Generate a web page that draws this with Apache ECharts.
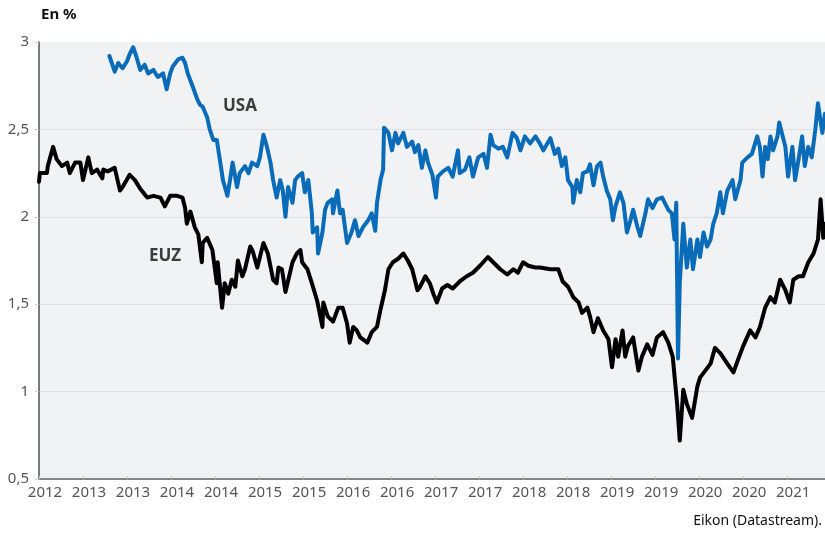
<!DOCTYPE html>
<html><head><meta charset="utf-8">
<script src="https://cdn.jsdelivr.net/npm/echarts@6/dist/echarts.min.js"></script>
<style>html,body{margin:0;padding:0;background:#fff}#c{width:825px;height:533px}</style>
</head><body><div id="c"></div>
<script>
// Tick labels (one per half-year tick)
const tickLabels = ['2012','2013','2013','2014','2014','2015','2015','2016','2016','2017','2017','2018','2018','2019','2019','2020','2020','2021'];

// EUZ yield (%), dates in decimal years
const euzT = [2012.50,2012.51,2012.59,2012.60,2012.66,2012.70,2012.76,2012.82,2012.85,2012.91,
2012.97,2013.00,2013.06,2013.10,2013.16,2013.22,2013.23,2013.28,2013.36,2013.42,
2013.45,2013.53,2013.59,2013.65,2013.73,2013.80,2013.88,2013.93,2013.99,2014.07,
2014.13,2014.16,2014.18,2014.22,2014.27,2014.31,2014.35,2014.36,2014.41,2014.47,
2014.52,2014.53,2014.58,2014.61,2014.65,2014.69,2014.73,2014.76,2014.81,2014.84,
2014.90,2014.93,2014.98,2015.05,2015.10,2015.16,2015.20,2015.22,2015.26,2015.30,
2015.38,2015.43,2015.47,2015.49,2015.55,2015.60,2015.66,2015.72,2015.73,2015.78,
2015.84,2015.90,2015.95,2016.00,2016.03,2016.07,2016.11,2016.15,2016.23,2016.28,
2016.34,2016.38,2016.43,2016.47,2016.52,2016.58,2016.64,2016.69,2016.74,2016.80,
2016.83,2016.89,2016.94,2016.98,2017.02,2017.08,2017.14,2017.20,2017.28,2017.36,
2017.43,2017.51,2017.60,2017.66,2017.74,2017.82,2017.89,2017.94,2018.00,2018.06,
2018.14,2018.19,2018.31,2018.40,2018.45,2018.51,2018.57,2018.63,2018.67,2018.73,
2018.76,2018.80,2018.85,2018.91,2018.97,2019.01,2019.05,2019.08,2019.13,2019.16,
2019.19,2019.25,2019.31,2019.35,2019.41,2019.47,2019.52,2019.59,2019.65,2019.70,
2019.75,2019.78,2019.82,2019.86,2019.92,2019.98,2020.01,2020.07,2020.13,2020.18,
2020.24,2020.32,2020.39,2020.44,2020.50,2020.58,2020.64,2020.69,2020.75,2020.81,
2020.86,2020.92,2020.98,2021.03,2021.07,2021.13,2021.18,2021.24,2021.30,2021.35,
2021.38,2021.41,2021.43];
const euzV = [2.20,2.25,2.25,2.29,2.40,2.33,2.29,2.31,2.25,2.31,
2.31,2.21,2.34,2.25,2.27,2.22,2.27,2.26,2.28,2.15,
2.17,2.24,2.21,2.16,2.11,2.12,2.11,2.06,2.12,2.12,
2.11,2.05,1.96,2.03,1.94,1.90,1.74,1.85,1.88,1.81,
1.62,1.74,1.48,1.62,1.56,1.64,1.60,1.75,1.66,1.70,
1.83,1.80,1.71,1.85,1.79,1.64,1.62,1.71,1.70,1.57,
1.74,1.79,1.81,1.74,1.70,1.62,1.52,1.37,1.51,1.43,
1.40,1.48,1.48,1.39,1.28,1.37,1.35,1.31,1.28,1.34,
1.37,1.47,1.58,1.70,1.74,1.76,1.79,1.75,1.70,1.58,
1.60,1.66,1.62,1.56,1.51,1.59,1.61,1.59,1.63,1.66,
1.68,1.72,1.77,1.74,1.70,1.67,1.70,1.68,1.74,1.72,
1.71,1.71,1.70,1.70,1.63,1.60,1.54,1.51,1.45,1.48,
1.43,1.34,1.42,1.35,1.30,1.14,1.30,1.20,1.35,1.20,
1.26,1.31,1.12,1.20,1.27,1.21,1.31,1.34,1.28,1.20,
0.93,0.72,1.01,0.93,0.85,1.03,1.08,1.12,1.16,1.25,
1.22,1.16,1.11,1.18,1.26,1.35,1.31,1.37,1.48,1.54,
1.51,1.64,1.58,1.51,1.64,1.66,1.66,1.74,1.79,1.87,
2.10,1.88,1.96];

// USA yield (%)
const usaT = [2013.30,2013.36,2013.40,2013.45,2013.50,2013.53,2013.57,2013.61,2013.65,2013.70,
2013.74,2013.80,2013.85,2013.91,2013.95,2013.99,2014.02,2014.08,2014.13,2014.16,
2014.19,2014.25,2014.30,2014.33,2014.36,2014.41,2014.44,2014.48,2014.52,2014.56,
2014.59,2014.64,2014.67,2014.70,2014.75,2014.78,2014.84,2014.88,2014.92,2014.98,
2015.01,2015.05,2015.09,2015.13,2015.16,2015.20,2015.24,2015.27,2015.30,2015.33,
2015.38,2015.41,2015.44,2015.49,2015.52,2015.56,2015.60,2015.61,2015.66,2015.67,
2015.72,2015.75,2015.78,2015.83,2015.84,2015.89,2015.92,2015.95,2016.00,2016.05,
2016.09,2016.13,2016.18,2016.24,2016.28,2016.32,2016.34,2016.38,2016.41,2016.42,
2016.47,2016.51,2016.55,2016.58,2016.64,2016.68,2016.74,2016.77,2016.81,2016.85,
2016.89,2016.92,2016.97,2017.01,2017.03,2017.09,2017.15,2017.20,2017.26,2017.28,
2017.34,2017.39,2017.43,2017.49,2017.55,2017.59,2017.63,2017.66,2017.72,2017.77,
2017.82,2017.88,2017.93,2017.97,2018.02,2018.08,2018.14,2018.19,2018.23,2018.31,
2018.36,2018.40,2018.44,2018.48,2018.51,2018.56,2018.57,2018.61,2018.65,2018.68,
2018.73,2018.76,2018.80,2018.84,2018.88,2018.91,2018.95,2018.99,2019.02,2019.05,
2019.10,2019.14,2019.18,2019.22,2019.25,2019.30,2019.33,2019.39,2019.42,2019.47,
2019.52,2019.58,2019.61,2019.65,2019.69,2019.72,2019.74,2019.76,2019.78,2019.82,
2019.86,2019.90,2019.93,2019.98,2020.01,2020.05,2020.09,2020.13,2020.16,2020.20,
2020.24,2020.27,2020.32,2020.38,2020.41,2020.47,2020.49,2020.55,2020.60,2020.66,
2020.69,2020.72,2020.75,2020.78,2020.81,2020.84,2020.89,2020.91,2020.94,2020.98,
2021.01,2021.06,2021.09,2021.13,2021.17,2021.20,2021.24,2021.28,2021.32,2021.35,
2021.40,2021.43];
const usaV = [2.92,2.83,2.88,2.85,2.89,2.93,2.97,2.91,2.84,2.87,
2.82,2.84,2.80,2.82,2.73,2.82,2.86,2.90,2.91,2.88,
2.82,2.74,2.67,2.64,2.63,2.57,2.50,2.44,2.44,2.31,
2.21,2.12,2.21,2.31,2.17,2.25,2.29,2.25,2.31,2.29,
2.34,2.47,2.40,2.31,2.21,2.11,2.21,2.15,2.00,2.17,
2.08,2.21,2.23,2.25,2.14,2.21,2.02,1.91,1.94,1.79,
1.91,2.04,2.08,2.10,2.02,2.15,2.02,2.04,1.85,1.91,
1.98,1.89,1.94,1.98,2.02,1.92,2.08,2.21,2.27,2.51,
2.48,2.38,2.48,2.42,2.48,2.40,2.43,2.37,2.41,2.28,
2.38,2.31,2.24,2.11,2.23,2.26,2.28,2.23,2.38,2.25,
2.27,2.34,2.23,2.34,2.36,2.28,2.47,2.41,2.39,2.40,
2.34,2.48,2.45,2.38,2.46,2.42,2.46,2.42,2.38,2.45,
2.36,2.39,2.29,2.34,2.21,2.17,2.08,2.21,2.14,2.25,
2.26,2.30,2.18,2.29,2.31,2.23,2.15,2.10,1.98,2.06,
2.14,2.08,1.91,1.98,2.04,1.94,1.89,2.02,2.10,2.05,
2.10,2.11,2.08,2.04,2.02,1.87,2.08,1.19,1.62,1.96,
1.71,1.87,1.70,1.87,1.77,1.91,1.83,1.87,1.96,2.02,
2.14,2.02,2.15,2.21,2.10,2.21,2.31,2.34,2.36,2.46,
2.40,2.23,2.40,2.33,2.46,2.38,2.46,2.54,2.48,2.40,
2.23,2.40,2.21,2.33,2.46,2.29,2.40,2.34,2.50,2.65,
2.48,2.59];

const xMin = 2012.5, xMax = 2021.43, xStep = 0.5;
const yMin = 0.5, yMax = 3, yStep = 0.5;

const FONT = '"Noto Sans", "Open Sans", sans-serif';
const pair = (t, v) => t.map((x, i) => [x, v[i]]);

const chart = echarts.init(document.getElementById('c'), null, {renderer: 'canvas'});
chart.setOption({
  animation: false,
  backgroundColor: '#ffffff',
  grid: {left: 39, right: 0, top: 42, bottom: 54, show: true, backgroundColor: '#f1f2f4', borderWidth: 0},
  xAxis: {
    type: 'value', min: xMin, max: xMax, interval: xStep,
    axisLine: {show: true, lineStyle: {color: '#858585', width: 2}},
    axisTick: {show: true, inside: true, length: 3, lineStyle: {color: '#c4c4c4', width: 1}},
    splitLine: {show: false},
    axisLabel: {
      show: true, showMaxLabel: false, color: '#555', fontFamily: FONT, fontSize: 15, margin: 6,
      padding: [0, 0, 0, 12],
      formatter: function (v) { const i = Math.round((v - xMin) / xStep); return tickLabels[i] !== undefined ? tickLabels[i] : ''; }
    }
  },
  yAxis: {
    type: 'value', min: yMin, max: yMax, interval: yStep,
    axisLine: {show: true, lineStyle: {color: '#7a7a7a', width: 2}},
    axisTick: {show: true, inside: false, length: 4, lineStyle: {color: '#cfcfcf'}},
    splitLine: {show: true, lineStyle: {color: ['#dcdde0','#dcdde0','#dcdde0','#dcdde0','#dcdde0','#f1f2f4'], width: 1}},
    axisLabel: {color: '#555', fontFamily: FONT, fontSize: 15, margin: 10,
      formatter: function (v) { return String(v).replace('.', ','); }}
  },
  series: [
    {name: 'EUZ', type: 'line', data: pair(euzT, euzV), showSymbol: false, symbol: 'none',
     lineStyle: {color: '#000000', width: 4, join: 'round', cap: 'round'}, z: 2},
    {name: 'USA', type: 'line', data: pair(usaT, usaV), showSymbol: false, symbol: 'none',
     lineStyle: {color: '#0a6cb8', width: 4, join: 'round', cap: 'round'}, z: 3}
  ],
  graphic: [
    {type: 'text', left: 41, top: 7, style: {text: 'En %', font: 'bold 15px ' + FONT, fill: '#111'}},
    {type: 'text', x: 240, y: 106, style: {text: 'USA', font: 'bold 17px ' + FONT, fill: '#3c3c3c', textAlign: 'center', textVerticalAlign: 'middle', verticalAlign: 'middle'}},
    {type: 'text', x: 165, y: 256, style: {text: 'EUZ', font: 'bold 17px ' + FONT, fill: '#3c3c3c', textAlign: 'center', textVerticalAlign: 'middle', verticalAlign: 'middle'}},
    {type: 'text', right: 3, top: 514, style: {text: 'Eikon (Datastream).', font: '14px ' + FONT, fill: '#111'}}
  ]
});
</script>
</body></html>
